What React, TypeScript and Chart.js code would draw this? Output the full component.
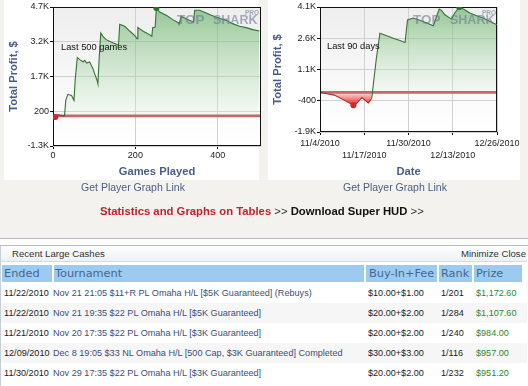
import React, { useEffect, useRef } from 'react';
import { Chart, registerables } from 'chart.js';
Chart.register(...registerables);

// ---------- data: chart 1 (profit by games played) ----------
const gamesPlayed = [5.8, 12, 24, 28, 31, 36, 45, 51, 54, 59, 65, 73, 77, 82, 89, 93, 97, 101, 107, 109, 112, 116, 121, 129, 141, 154, 159, 162, 174, 186, 198, 204, 206, 218, 230, 240, 242, 248, 251, 259, 275, 291, 305, 306, 311, 323, 331, 341, 344, 356, 372, 384, 396, 408, 420, 436, 453, 469, 485, 501];
const gamesProfit = [-52, 50, -10, 0, 670, 930, 880, 670, 1577, 2514, 2427, 2326, 2398, 2283, 2326, 2180, 2038, 1823, 1533, 1390, 2470, 3577, 3434, 3290, 3190, 3089, 3046, 3953, 3866, 3663, 3477, 3334, 3810, 3663, 3550, 3434, 3810, 3837, 4657, 4484, 4341, 4154, 4010, 3953, 4298, 4197, 4125, 4052, 4557, 4557, 4441, 4341, 4268, 4197, 4125, 3982, 3866, 3810, 3723, 3663];
const gamesTicks = [0, 200, 400];
const gamesProfitTicks = [-1300, 200, 1700, 3200, 4700];

// ---------- data: chart 2 (profit by date, days after 11/4/2010) ----------
const dateDays = [0.3, 4.2, 7.1, 9.8, 10.6, 12.3, 13.2, 14.2, 15.2, 16.5, 17.6, 19.6, 21.5, 23.5, 25.0, 25.7, 27.4, 30.3, 33.3, 35.0, 35.7, 36.7, 38.6, 39.6, 40.9, 42.5, 44.0, 46.0, 47.9, 49.9, 52.0];
const dateProfit = [0, -130, -370, -615, -560, -244, -370, -504, -292, 1557, 2845, 2715, 2604, 2490, 2392, 3480, 3569, 3405, 3198, 4003, 3937, 3728, 3520, 3810, 4100, 3970, 3810, 3680, 3569, 3405, 3246];
const dateTickDays = [0, 13, 26, 39, 52];
const dateTickLabels = ['11/4/2010', '11/17/2010', '11/30/2010', '12/13/2010', '12/26/2010'];
const dateProfitTicks = [-1900, -400, 1100, 2600, 4100];

// ---------- data: recent large cashes ----------
const cashHeaders = ['Ended', 'Tournament', 'Buy-In+Fee', 'Rank', 'Prize'];
const cashEnded = ['11/22/2010', '11/22/2010', '11/21/2010', '12/09/2010', '11/30/2010'];
const cashTournament = [
  'Nov 21 21:05 $11+R PL Omaha H/L [$5K Guaranteed] (Rebuys)',
  'Nov 21 19:35 $22 PL Omaha H/L [$5K Guaranteed]',
  'Nov 20 17:35 $22 PL Omaha H/L [$3K Guaranteed]',
  'Dec 8 19:05 $33 NL Omaha H/L [500 Cap, $3K Guaranteed] Completed',
  'Nov 29 17:35 $22 PL Omaha H/L [$3K Guaranteed]',
];
const cashBuyIn = ['$10.00+$1.00', '$20.00+$2.00', '$20.00+$2.00', '$30.00+$3.00', '$20.00+$2.00'];
const cashRank = ['1/201', '1/284', '1/240', '1/116', '1/232'];
const cashPrize = ['$1,172.60', '$1,107.60', '$984.00', '$957.00', '$951.20'];

const SANS = "'Liberation Sans', Arial, Helvetica, sans-serif";
const WIDE = "'DejaVu Sans', Verdana, sans-serif";

function fmtK(v: number) {
  return Math.abs(v) >= 1000 ? (v / 1000).toFixed(1) + 'K' : String(v);
}

type Cfg = {
  xs: number[];
  ys: number[];
  xTicks: number[];
  xMax: number;
  yTicks: number[];
  xTitle: string;
  xFormat: (v: number) => string | string[];
  yWidth: number;
  xHeight: number;
  xTickPad: number;
  padRight: number;
};

function buildChart(canvas: HTMLCanvasElement, cfg: Cfg) {
  const { xs, ys } = cfg;
  const minIdx = ys.indexOf(Math.min(...ys));
  const maxIdx = ys.indexOf(Math.max(...ys));
  const tickFont = { family: SANS, size: 9, lineHeight: 1.3 };
  const titleFont = { family: SANS, size: 11.2, weight: 'bold' as const, lineHeight: 1.2 };
  const titleColor = '#4a5c8a';

  const framePlugin = {
    id: 'frame',
    beforeDraw(chart: any) {
      const { ctx, chartArea: a } = chart;
      const g = ctx.createLinearGradient(0, a.top, 0, a.bottom);
      g.addColorStop(0, '#eeeeee');
      g.addColorStop(1, '#ffffff');
      ctx.save();
      ctx.fillStyle = g;
      ctx.fillRect(a.left, a.top, a.right - a.left, a.bottom - a.top);
      ctx.restore();
    },
    beforeDatasetsDraw(chart: any) {
      const { ctx, chartArea: a, scales } = chart;
      const y0 = scales.y.getPixelForValue(0);
      ctx.save();
      ctx.strokeStyle = '#bf6b6b';
      ctx.lineWidth = 2.6;
      ctx.beginPath();
      ctx.moveTo(a.left, y0);
      ctx.lineTo(a.right, y0);
      ctx.stroke();
      ctx.strokeStyle = '#111';
      ctx.lineWidth = 1;
      const l = Math.round(a.left) + 0.5;
      const t = Math.round(a.top) + 0.5;
      const r = Math.round(a.right) - 0.5;
      const b = Math.round(a.bottom) - 0.5;
      ctx.strokeRect(l, t, r - l, b - t);
      ctx.restore();
    },
  };

  const gridCfg = { color: '#d0d0d0', tickColor: '#111', tickLength: 3, lineWidth: 1 };

  const chart = new Chart(canvas, {
    type: 'line',
    data: {
      datasets: [
        {
          data: xs.map((x, i) => ({ x, y: ys[i] })),
          borderWidth: 1.1,
          borderColor: '#357235',
          segment: {
            borderColor: (c: any) =>
              c.p0.parsed.y <= 0 && c.p1.parsed.y <= 0 ? '#a32f2f' : '#357235',
          },
          fill: false,
          tension: 0,
          pointRadius: (c: any) => (c.dataIndex === minIdx || c.dataIndex === maxIdx ? 3 : 0),
          pointHoverRadius: 0,
          pointBorderWidth: 0,
          pointBackgroundColor: (c: any) => (c.dataIndex === minIdx ? '#d42626' : '#267326'),
        } as any,
      ],
    },
    options: {
      responsive: false,
      animation: false,
      devicePixelRatio: 1,
      events: [],
      layout: { padding: { top: 7, right: cfg.padRight, left: 0, bottom: 0 } },
      plugins: {
        legend: { display: false },
        tooltip: { enabled: false },
        filler: { drawTime: 'beforeDatasetsDraw' },
      } as any,
      scales: {
        x: {
          type: 'linear',
          min: cfg.xTicks[0],
          max: cfg.xMax,
          afterBuildTicks: (s: any) => {
            s.ticks = cfg.xTicks.map((v) => ({ value: v }));
          },
          afterFit: (s: any) => {
            s.height = cfg.xHeight;
          },
          ticks: {
            font: tickFont,
            color: '#1c1c1c',
            padding: cfg.xTickPad,
            maxRotation: 0,
            autoSkip: false,
            callback: (v: any) => cfg.xFormat(Number(v)),
          },
          grid: gridCfg,
          border: { display: false },
          title: {
            display: true,
            text: cfg.xTitle,
            font: titleFont,
            color: titleColor,
            padding: { top: 0, bottom: 3 },
          },
        },
        y: {
          type: 'linear',
          min: cfg.yTicks[0],
          max: cfg.yTicks[cfg.yTicks.length - 1],
          afterBuildTicks: (s: any) => {
            s.ticks = cfg.yTicks.map((v) => ({ value: v }));
          },
          afterFit: (s: any) => {
            s.width = cfg.yWidth;
          },
          ticks: {
            font: tickFont,
            color: '#1c1c1c',
            padding: 1,
            callback: (v: any) => fmtK(Number(v)),
          },
          grid: gridCfg,
          border: { display: false },
          title: {
            display: true,
            text: 'Total Profit, $',
            font: titleFont,
            color: titleColor,
            padding: { top: 7, bottom: 0 },
          },
        },
      },
    } as any,
    plugins: [framePlugin],
  });

  // gradient fills (need the laid-out scales)
  const { ctx, scales } = chart as any;
  const y0 = scales.y.getPixelForValue(0);
  const yHi = scales.y.getPixelForValue(Math.max(...ys));
  const yLo = scales.y.getPixelForValue(Math.min(...ys));
  const gUp = ctx.createLinearGradient(0, yHi, 0, y0);
  gUp.addColorStop(0, 'rgba(92,172,92,0.62)');
  gUp.addColorStop(0.55, 'rgba(150,205,150,0.38)');
  gUp.addColorStop(1, 'rgba(225,243,225,0.25)');
  const gDown = ctx.createLinearGradient(0, y0, 0, yLo);
  gDown.addColorStop(0, 'rgba(255,205,205,0.75)');
  gDown.addColorStop(1, 'rgba(230,18,18,0.97)');
  (chart.data.datasets[0] as any).fill = { target: { value: 0 }, above: gUp, below: gDown };
  chart.update();
  return chart;
}

type TxtProps = {
  x: number;
  cy: number;
  size: number;
  color: string;
  family?: string;
  bold?: boolean;
  lh?: number;
  children: React.ReactNode;
  style?: React.CSSProperties;
};

function Txt({ x, cy, size, color, family = SANS, bold, lh = 14, children, style }: TxtProps) {
  return (
    <div
      style={{
        position: 'absolute',
        left: x,
        top: cy - lh / 2,
        lineHeight: lh + 'px',
        fontSize: size,
        fontFamily: family,
        fontWeight: bold ? 'bold' : 'normal',
        color,
        whiteSpace: 'nowrap',
        ...style,
      }}
    >
      {children}
    </div>
  );
}

function Watermark({ left, right }: { left: number; right: number }) {
  const c = 'rgba(105,122,145,0.6)';
  return (
    <>
      <Txt x={left} cy={20} size={13.5} color={c} bold lh={14}>
        TOP
      </Txt>
      <Txt x={right - 45} cy={20} size={12.5} color={c} bold lh={14}>
        SHARK
      </Txt>
      <Txt x={right - 13} cy={12.5} size={6.5} color={c} bold lh={8}>
        PRO
      </Txt>
    </>
  );
}

const headerCells = [
  { left: 2, width: 50, text: 4 },
  { left: 54, width: 310, text: 55 },
  { left: 366, width: 71, text: 369 },
  { left: 439, width: 33, text: 441 },
  { left: 474, width: 48, text: 476 },
];
const rowTextX = [4, 53, 368, 441, 476];

export default function App() {
  const c1 = useRef<HTMLCanvasElement>(null);
  const c2 = useRef<HTMLCanvasElement>(null);

  useEffect(() => {
    const a = buildChart(c1.current!, {
      xs: gamesPlayed,
      ys: gamesProfit,
      xTicks: gamesTicks,
      xMax: 505,
      yTicks: gamesProfitTicks,
      xTitle: 'Games Played',
      xFormat: (v) => String(v),
      yWidth: 53,
      xHeight: 36,
      xTickPad: 1,
      padRight: 3,
    });
    const b = buildChart(c2.current!, {
      xs: dateDays,
      ys: dateProfit,
      xTicks: dateTickDays,
      xMax: dateTickDays[dateTickDays.length - 1],
      yTicks: dateProfitTicks,
      xTitle: 'Date',
      xFormat: (v) => {
        const i = dateTickDays.indexOf(v);
        const s = dateTickLabels[i] ?? '';
        return i % 2 === 0 ? s : ['', s];
      },
      yWidth: 56,
      xHeight: 50,
      xTickPad: 3,
      padRight: 31,
    });
    return () => {
      a.destroy();
      b.destroy();
    };
  }, []);

  const rows = cashEnded.map((d, i) => [d, cashTournament[i], cashBuyIn[i], cashRank[i], cashPrize[i]]);
  const rowColors = ['#1a1a1a', '#3d4d78', '#1a1a1a', '#1a1a1a', '#2a8a2a'];

  return (
    <div
      style={{
        position: 'absolute',
        left: 0,
        top: 0,
        width: 528,
        height: 386,
        overflow: 'hidden',
        background: '#ffffff',
        fontFamily: SANS,
      }}
    >
      {/* top gray panel */}
      <div
        style={{
          position: 'absolute',
          left: 0,
          top: 0,
          width: 528,
          height: 238,
          background: '#f3f2ef',
          borderBottom: '1px solid #b3bcc4',
        }}
      />
      <div style={{ position: 'absolute', left: 4, top: 0, width: 255, height: 180, background: '#fff' }} />
      <div style={{ position: 'absolute', left: 268, top: 0, width: 252, height: 180, background: '#fff' }} />

      <canvas ref={c1} width={264} height={182} style={{ position: 'absolute', left: 0, top: 0 }} />
      <canvas ref={c2} width={264} height={182} style={{ position: 'absolute', left: 264, top: 0 }} />

      <Txt x={61} cy={46.5} size={9.3} color="#111">
        Last 500 games
      </Txt>
      <Txt x={327} cy={45.5} size={9.3} color="#111">
        Last 90 days
      </Txt>
      <Watermark left={177} right={258} />
      <Watermark left={413} right={495} />

      <div
        style={{
          position: 'absolute',
          left: 4,
          width: 258,
          top: 180,
          lineHeight: '14px',
          textAlign: 'center',
          fontSize: 10.5,
          color: '#4b5e83',
          fontFamily: SANS,
        }}
      >
        Get Player Graph Link
      </div>
      <div
        style={{
          position: 'absolute',
          left: 268,
          width: 254,
          top: 180,
          lineHeight: '14px',
          textAlign: 'center',
          fontSize: 10.5,
          color: '#4b5e83',
          fontFamily: SANS,
        }}
      >
        Get Player Graph Link
      </div>

      <div
        style={{
          position: 'absolute',
          left: 100,
          top: 204,
          lineHeight: '14px',
          fontSize: 11.3,
          fontFamily: SANS,
          fontWeight: 'bold',
          whiteSpace: 'nowrap',
        }}
      >
        <span style={{ color: '#c8202a' }}>Statistics and Graphs on Tables</span>
        <span style={{ color: '#333', fontWeight: 'normal' }}> &gt;&gt; </span>
        <span style={{ color: '#111' }}>Download Super HUD</span>
        <span style={{ color: '#333', fontWeight: 'normal' }}> &gt;&gt;</span>
      </div>

      {/* recent large cashes box */}
      <div
        style={{
          position: 'absolute',
          left: 0,
          top: 245,
          width: 527,
          height: 160,
          borderTop: '1px solid #b3bcc4',
          borderLeft: '1px solid #c8d0d6',
          borderRight: '1px solid #c8d0d6',
        }}
      />
      <div
        style={{
          position: 'absolute',
          left: 1,
          top: 246,
          width: 526,
          height: 15,
          background: 'linear-gradient(#ffffff, #eef1f4)',
          borderBottom: '1px solid #d4dbe1',
        }}
      />
      <Txt x={12} cy={254} size={9.6} color="#333">
        Recent Large Cashes
      </Txt>
      <Txt x={460} cy={254} size={9.6} color="#333" style={{ left: 'auto', right: 2 }}>
        Minimize Close
      </Txt>

      {headerCells.map((h, i) => (
        <div
          key={'h' + i}
          style={{
            position: 'absolute',
            left: h.left,
            top: 265,
            width: h.width,
            height: 17,
            background: '#9dcbef',
          }}
        />
      ))}
      {headerCells.map((h, i) => (
        <Txt key={'ht' + i} x={h.text} cy={273.5} size={11.3} family={WIDE} color="#3f6896" lh={17}>
          {cashHeaders[i]}
        </Txt>
      ))}

      {rows.map((r, ri) => (
        <React.Fragment key={'r' + ri}>
          <div
            style={{
              position: 'absolute',
              left: 1,
              top: 283 + ri * 20,
              width: 526,
              height: 20,
              background: ri % 2 === 1 ? '#f6f6f6' : '#ffffff',
            }}
          />
          {r.map((cell, ci) => (
            <Txt key={ci} x={rowTextX[ci]} cy={293.3 + ri * 19.9} size={9.1} color={rowColors[ci]}>
              {cell}
            </Txt>
          ))}
        </React.Fragment>
      ))}
    </div>
  );
}
